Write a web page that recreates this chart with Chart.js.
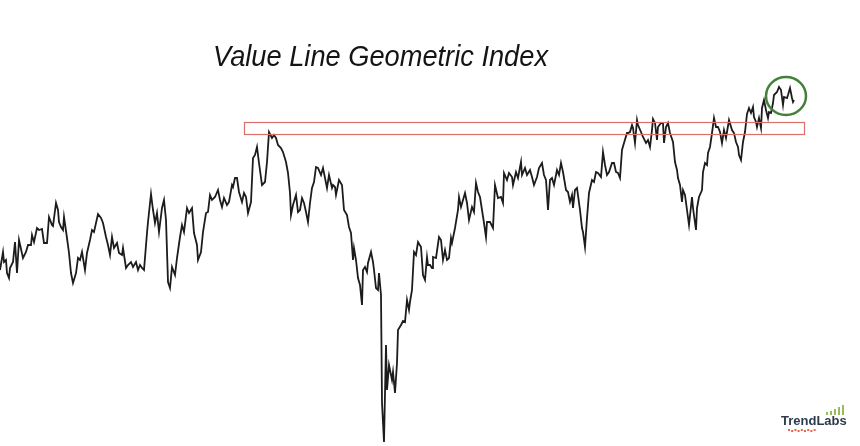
<!DOCTYPE html>
<html>
<head>
<meta charset="utf-8">
<title>Value Line Geometric Index</title>
<script src="https://cdn.jsdelivr.net/npm/chart.js@4/dist/chart.umd.min.js"></script>
<style>
  html, body { margin: 0; padding: 0; background: #ffffff; }
  #wrap { position: relative; width: 860px; height: 446px; }
</style>
</head>
<body>
<div id="wrap"><canvas id="vlg-chart"></canvas></div>
<script>
// Weekly index levels (no axes shown in the original).
var weeks = [
  0, 3, 4, 6, 7, 9, 10, 13, 15, 17,
  19, 23, 26, 28, 31, 32, 34, 37, 39, 42,
  44, 47, 49, 52, 53, 56, 58, 59, 61, 63,
  64, 67, 69, 71, 73, 76, 78, 80, 82, 85,
  87, 90, 92, 94, 98, 101, 103, 106, 108, 110,
  112, 114, 117, 119, 122, 123, 126, 128, 131, 133,
  136, 138, 140, 142, 144, 147, 148, 151, 153, 155,
  157, 159, 162, 164, 166, 168, 170, 172, 175, 177,
  180, 182, 184, 187, 189, 192, 194, 197, 198, 201,
  203, 206, 208, 210, 212, 215, 218, 220, 222, 224,
  227, 229, 232, 233, 235, 237, 239, 242, 244, 246,
  248, 251, 253, 255, 257, 259, 262, 265, 267, 269,
  272, 274, 276, 278, 281, 283, 286, 288, 290, 291,
  293, 296, 298, 300, 302, 304, 306, 308, 310, 312,
  314, 316, 318, 321, 323, 325, 327, 329, 332, 333,
  335, 336, 339, 342, 344, 347, 349, 351, 353, 354,
  356, 358, 360, 362, 363, 365, 367, 368, 371, 373,
  374, 376, 378, 379, 381, 382, 384, 386, 387, 389,
  392, 393, 395, 397, 398, 401, 403, 405, 407, 409,
  410, 412, 414, 416, 418, 421, 423, 425, 427, 428,
  430, 432, 433, 436, 439, 441, 443, 445, 447, 449,
  451, 452, 455, 458, 459, 461, 463, 465, 467, 469,
  472, 474, 476, 478, 480, 482, 484, 486, 487, 490,
  493, 495, 498, 501, 503, 504, 507, 509, 512, 513,
  516, 518, 521, 522, 525, 527, 530, 532, 534, 537,
  539, 542, 544, 546, 548, 550, 552, 554, 557, 559,
  561, 563, 566, 568, 570, 572, 573, 575, 577, 580,
  582, 583, 585, 587, 589, 592, 594, 596, 598, 601,
  603, 605, 607, 609, 612, 614, 616, 618, 620, 622,
  624, 627, 628, 630, 632, 633, 635, 637, 638, 641,
  643, 646, 648, 650, 652, 653, 655, 657, 658, 661,
  663, 664, 666, 668, 670, 673, 675, 677, 678, 680,
  682, 683, 685, 687, 689, 692, 693, 696, 697, 699,
  702, 703, 705, 707, 708, 710, 712, 714, 716, 718,
  720, 722, 724, 726, 727, 729, 732, 734, 736, 738,
  739, 741, 743, 745, 747, 749, 751, 753, 754, 756,
  757, 759, 761, 762, 764, 766, 768, 769, 771, 773,
  774, 777, 779, 781, 783, 784, 787, 788, 790, 792,
  793, 794
];

var level = [
  176, 194, 184, 186, 173, 168, 178, 184, 204, 173,
  206, 188, 194, 201, 201, 211, 204, 218, 216, 217,
  203, 203, 229, 221, 220, 243, 236, 224, 219, 216,
  229, 208, 193, 173, 163, 173, 188, 186, 194, 176,
  193, 206, 216, 214, 232, 228, 223, 209, 201, 191,
  209, 198, 203, 193, 191, 198, 178, 181, 184, 179,
  184, 176, 181, 178, 176, 213, 224, 252, 236, 223,
  233, 214, 238, 246, 226, 164, 158, 179, 171, 188,
  209, 221, 214, 238, 233, 238, 213, 201, 186, 194,
  214, 233, 234, 251, 246, 249, 256, 246, 239, 248,
  241, 244, 261, 259, 268, 268, 254, 244, 253, 249,
  233, 244, 288, 291, 299, 283, 261, 264, 284, 314,
  308, 311, 308, 301, 298, 294, 284, 273, 253, 231,
  241, 251, 234, 236, 248, 243, 234, 224, 243, 258,
  264, 279, 278, 271, 278, 268, 258, 271, 258, 261,
  259, 251, 266, 261, 236, 231, 219, 213, 186, 198,
  186, 168, 161, 141, 176, 179, 174, 183, 194, 184,
  176, 158, 156, 173, 151, 43, 4, 101, 56, 81,
  66, 74, 53, 83, 116, 121, 125, 124, 146, 136,
  144, 156, 194, 191, 204, 199, 171, 166, 189, 181,
  181, 178, 189, 188, 209, 206, 186, 196, 186, 188,
  208, 203, 218, 236, 249, 239, 246, 253, 243, 226,
  239, 234, 263, 254, 249, 236, 223, 209, 224, 224,
  218, 261, 248, 249, 243, 273, 266, 273, 269, 261,
  274, 268, 284, 271, 278, 271, 276, 269, 261, 269,
  278, 283, 271, 266, 236, 266, 268, 261, 276, 271,
  283, 274, 256, 254, 244, 251, 238, 256, 258, 236,
  218, 214, 199, 228, 253, 266, 264, 274, 273, 269,
  294, 281, 271, 274, 283, 283, 274, 273, 268, 296,
  303, 313, 313, 314, 321, 318, 303, 326, 321, 314,
  309, 303, 306, 299, 316, 327, 323, 306, 319, 323,
  323, 303, 319, 323, 313, 304, 284, 276, 268, 261,
  244, 256, 251, 236, 221, 249, 238, 216, 238, 249,
  256, 274, 283, 281, 293, 299, 313, 328, 319, 319,
  314, 303, 316, 308, 314, 326, 316, 313, 304, 299,
  291, 286, 304, 314, 332, 338, 333, 339, 329, 324,
  319, 328, 318, 338, 346, 336, 328, 334, 333, 343,
  351, 354, 359, 356, 341, 349, 348, 351, 358, 348,
  344, 346
];

// resistance band and the circled recent highs, in data units
var bandWeeks = [244, 804];
var bandLevels = [312, 324];
var circleCenter = [786, 350];
var circleRadius = 20;

var titleText = 'Value Line Geometric Index';

var markupPlugin = {
  id: 'markup',
  afterDatasetsDraw: function (chart) {
    var ctx = chart.ctx;
    var xs = chart.scales.x;
    var ys = chart.scales.y;
    ctx.save();

    // red band
    var x0 = xs.getPixelForValue(bandWeeks[0]);
    var x1 = xs.getPixelForValue(bandWeeks[1]);
    var y0 = ys.getPixelForValue(bandLevels[1]);
    var y1 = ys.getPixelForValue(bandLevels[0]);
    ctx.strokeStyle = '#d9706c';
    ctx.lineWidth = 1.2;
    ctx.strokeRect(x0 + 0.5, y0 + 0.5, x1 - x0, y1 - y0);

    // green circle
    var cx = xs.getPixelForValue(circleCenter[0]);
    var cy = ys.getPixelForValue(circleCenter[1]);
    var rx = xs.getPixelForValue(circleCenter[0] + circleRadius) - cx;
    var ry = cy - ys.getPixelForValue(circleCenter[1] + circleRadius - 1);
    ctx.strokeStyle = '#43813a';
    ctx.lineWidth = 2.5;
    ctx.beginPath();
    ctx.ellipse(cx, cy, rx, ry, 0, 0, Math.PI * 2);
    ctx.stroke();

    // title
    ctx.fillStyle = '#141414';
    ctx.font = 'italic 29px "Liberation Sans", Arial, sans-serif';
    ctx.textBaseline = 'alphabetic';
    ctx.textAlign = 'left';
    ctx.fillText(titleText, 213, 66, 335);

    // logo
    ctx.fillStyle = '#2e3b4e';
    ctx.font = 'bold 13px "Liberation Sans", Arial, sans-serif';
    ctx.fillText('TrendLabs', 781, 425);
    ctx.fillStyle = '#9bbb59';
    [[826, 3], [830, 4], [834, 6], [838, 8], [842, 10]].forEach(function (b) {
      ctx.fillRect(b[0], 415 - b[1], 2, b[1]);
    });
    ctx.fillStyle = '#e8664f';
    for (var i = 0; i < 9; i++) {
      ctx.fillRect(788 + i * 3.2, 429 + (i % 2), 2, 2);
    }
    ctx.restore();
  }
};

function initChart() {
  var ctx = document.getElementById('vlg-chart');
  return new Chart(ctx, {
    type: 'line',
    data: {
      datasets: [{
        data: weeks.map(function (w, i) { return { x: w, y: level[i] }; }),
        borderColor: '#1c1c1c',
        borderWidth: 1.8,
        pointRadius: 0,
        tension: 0,
        fill: false
      }]
    },
    options: {
      responsive: true,
      maintainAspectRatio: false,
      animation: false,
      layout: { padding: 0 },
      plugins: { legend: { display: false }, tooltip: { enabled: false } },
      scales: {
        x: { type: 'linear', min: 0, max: 860, display: false },
        y: { min: 0, max: 446, display: false }
      }
    },
    plugins: [markupPlugin]
  });
}

initChart();
</script>
</body>
</html>
